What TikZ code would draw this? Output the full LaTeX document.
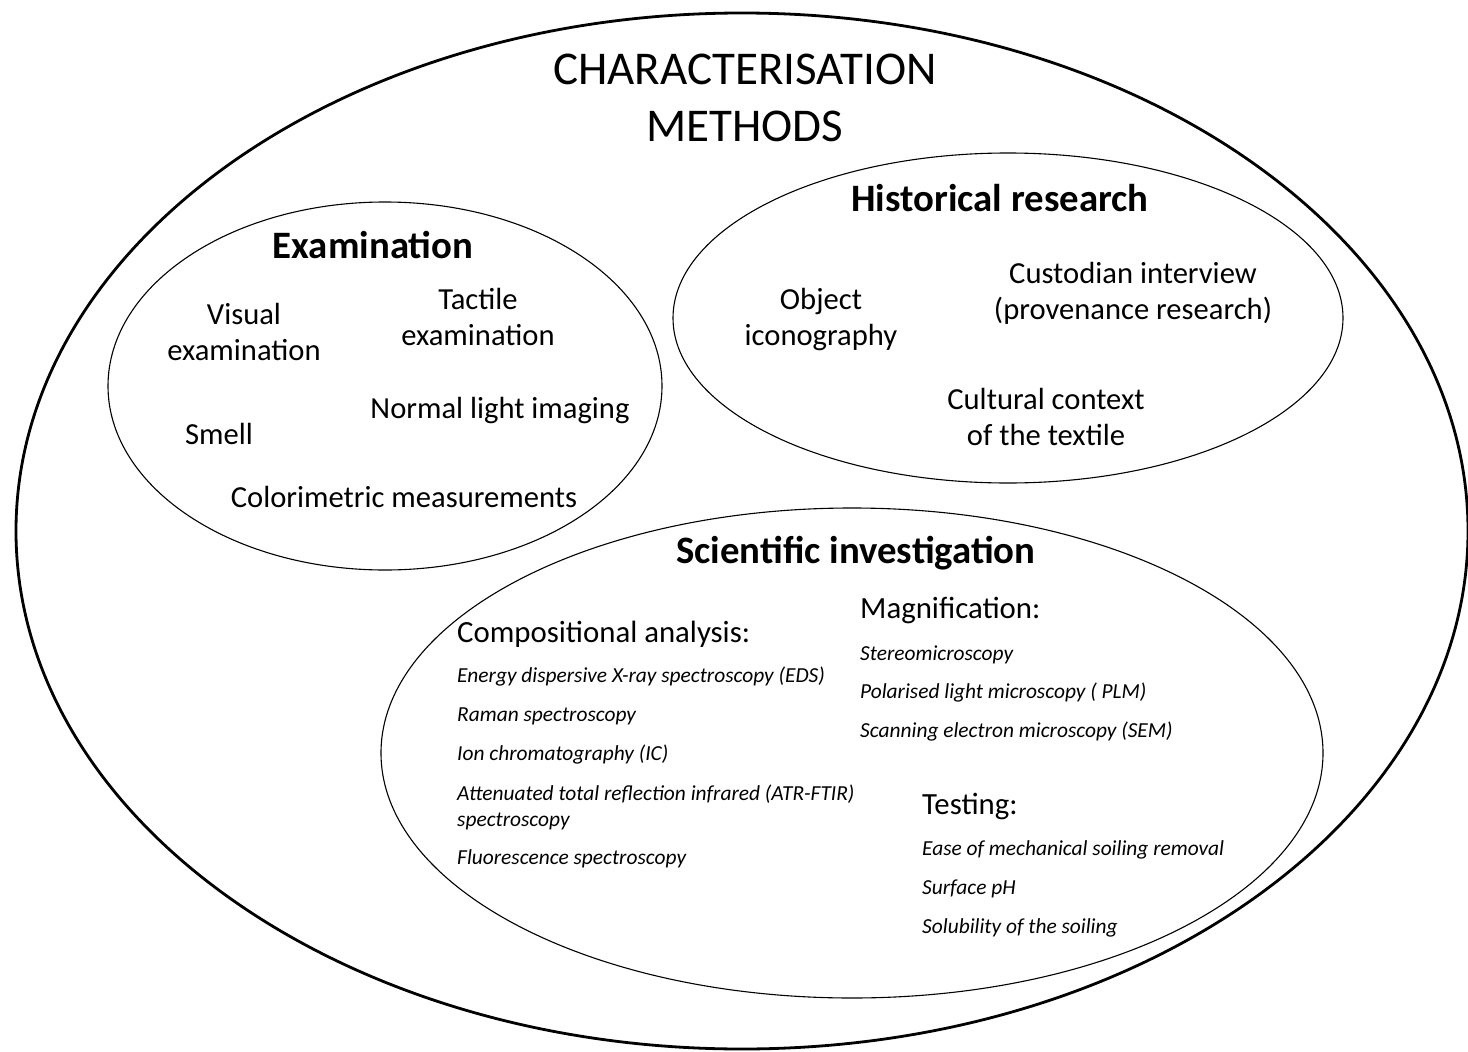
\documentclass[tikz,border=0pt]{standalone}
\usepackage{fontspec}
\setmainfont{Carlito}
\begin{document}
\begin{tikzpicture}[x=1pt,y=-1pt,
  outerline/.style={line width=2.8pt},
  innerline/.style={line width=1.1pt},
  titletext/.style={font=\fontsize{47}{57}\selectfont, align=center, inner sep=0pt},
  headtext/.style={font=\fontsize{38.8}{44}\selectfont\bfseries, inner sep=0pt},
  itemtext/.style={font=\fontsize{30.6}{36}\selectfont, align=center, inner sep=0pt},
  subhead/.style={font=\fontsize{30.8}{34}\selectfont, anchor=west, inner sep=0pt},
  italtext/.style={font=\fontsize{21.4}{26}\selectfont\itshape, anchor=west, inner sep=0pt, align=left}]
\useasboundingbox (0,0) rectangle (1468,1052);
% ellipses
\draw[outerline] (742,531) ellipse [x radius=726pt, y radius=518pt];
\draw[innerline] (385,386) ellipse [x radius=277pt, y radius=184pt];
\draw[innerline] (1008,318) ellipse [x radius=335pt, y radius=165pt];
\draw[innerline] (852,753) ellipse [x radius=471pt, y radius=245pt];
% title
\node[titletext] (title1) at (745,69) {CHARACTERISATION};
\node[titletext] (title2) at (745,126) {METHODS};
% Examination
\node[headtext] (exam) at (373,245) {Examination};
\node[itemtext] (visual) at (244,332) {Visual\\examination};
\node[itemtext] (tactile) at (478,317) {Tactile\\examination};
\node[itemtext] (normal) at (500,411) {Normal light imaging};
\node[itemtext] (smell) at (219,434) {Smell};
\node[itemtext] (color) at (404,497) {Colorimetric measurements};
% Historical research
\node[headtext] (hist) at (1000,198) {Historical research};
\node[itemtext] (object) at (821,320) {Object\\iconography};
\node[itemtext] (custodian) at (1133,293) {Custodian interview\\(provenance research)};
\node[itemtext] (cultural) at (1046,417) {Cultural context\\of the textile};
% Scientific investigation
\node[headtext] (sci) at (856,553) {Scientific investigation};
\node[subhead] (comp) at (457,634) {Compositional analysis:};
\node[italtext] (eds) at (457,677) {Energy dispersive X-ray spectroscopy (EDS)};
\node[italtext] (raman) at (457,716) {Raman spectroscopy};
\node[italtext] (ion) at (457,755) {Ion chromatography (IC)};
\node[italtext] (atr) at (457,807) {Attenuated total reflection infrared (ATR-FTIR)\\spectroscopy};
\node[italtext] (fluo) at (457,859) {Fluorescence spectroscopy};
\node[subhead] (magn) at (860,610) {Magnification:};
\node[italtext] (stereo) at (860,655) {Stereomicroscopy};
\node[italtext] (plm) at (860,693) {Polarised light microscopy ( PLM)};
\node[italtext] (sem) at (860,732) {Scanning electron microscopy (SEM)};
\node[subhead] (test) at (922,806) {Testing:};
\node[italtext] (ease) at (922,850) {Ease of mechanical soiling removal};
\node[italtext] (ph) at (922,889) {Surface pH};
\node[italtext] (solub) at (922,928) {Solubility of the soiling};
\end{tikzpicture}
\end{document}
